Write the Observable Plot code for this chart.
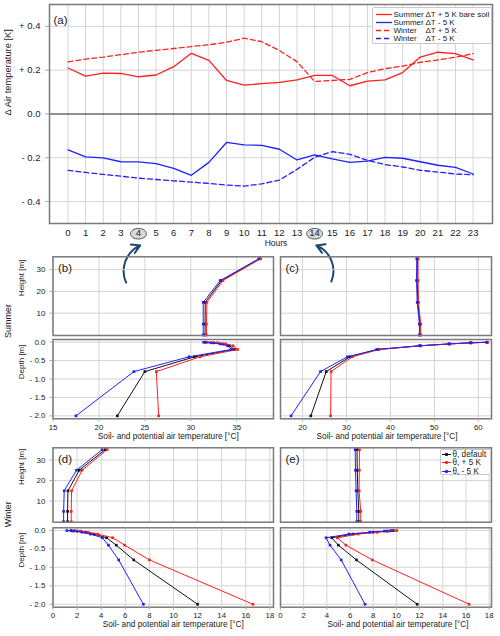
<!DOCTYPE html>
<html><head><meta charset="utf-8">
<script src="https://cdn.jsdelivr.net/npm/d3@7"></script>
<script src="https://cdn.jsdelivr.net/npm/@observablehq/plot@0.6"></script>
<style>
body{margin:0;background:#fff;font-family:"Liberation Sans",Arial,Helvetica,sans-serif;color:#222;}
#root{position:relative;width:500px;height:636px;overflow:hidden;background:#fff;}
.leg{position:absolute;background:#fff;border:1px solid #c8c8c8;border-radius:2px;box-sizing:border-box;}
.row{position:absolute;left:0;white-space:nowrap;line-height:9px;height:9px;}
.row svg{position:absolute;top:0;}
.row span{position:absolute;top:0;}
</style>
</head><body><div id="root"></div>
<script>
// ---------- data: panel (a) ----------
const hours = [0,1,2,3,4,5,6,7,8,9,10,11,12,13,14,15,16,17,18,19,20,21,22,23];
const summerPlus5 = [0.21,0.173,0.187,0.185,0.170,0.178,0.216,0.277,0.245,0.153,0.132,0.139,0.144,0.156,0.176,0.176,0.129,0.150,0.156,0.189,0.26,0.282,0.276,0.247];
const summerMinus5 = [-0.164,-0.196,-0.2,-0.218,-0.219,-0.227,-0.248,-0.28,-0.221,-0.13,-0.141,-0.143,-0.161,-0.21,-0.187,-0.205,-0.221,-0.215,-0.198,-0.202,-0.218,-0.234,-0.244,-0.274];
const winterPlus5 = [0.238,0.251,0.26,0.271,0.282,0.291,0.299,0.308,0.316,0.328,0.346,0.33,0.29,0.239,0.149,0.153,0.158,0.189,0.207,0.219,0.236,0.247,0.259,0.276];
const winterMinus5 = [-0.257,-0.267,-0.276,-0.284,-0.293,-0.299,-0.305,-0.311,-0.317,-0.325,-0.329,-0.319,-0.302,-0.253,-0.198,-0.172,-0.184,-0.212,-0.231,-0.242,-0.257,-0.265,-0.274,-0.277];
const seasonNamesA = ["Summer","Summer","Winter","Winter"];
const changeNamesA = ["ΔT + 5 K bare soil","ΔT - 5 K","ΔT + 5 K","ΔT - 5 K"];
const yTicksA = [-0.4,-0.2,0,0.2,0.4];
const highlightHours = [4,14];

// ---------- data: profiles ----------
const heights = [0,5,15,25,35];
const depths = [-0.005,-0.02,-0.05,-0.1,-0.2,-0.4,-0.8,-2.0];
const profileNames = ["θ, default","θ, + 5 K","θ, - 5 K"];
// (b) summer, hour 4
const bAirDefault = [31.55,31.55,31.57,33.35,37.5];
const bAirPlus = [31.7,31.7,31.75,33.5,37.6];
const bAirMinus = [31.35,31.35,31.35,33.2,37.4];
const bSoilDefault = [31.6,32.5,33.5,34.2,34.75,30.4,25.0,22.0];
const bSoilPlus = [31.8,32.9,33.8,34.6,35.1,31.0,26.25,26.5];
const bSoilMinus = [31.4,32.2,33.2,34.0,34.4,29.8,23.8,17.5];
// (c) summer, hour 14
const cAirDefault = [46.75,46.75,46.25,46.1,46.15];
const cAirPlus = [46.9,46.9,46.4,46.3,46.3];
const cAirMinus = [46.6,46.6,46.1,45.95,46.0];
const cSoilDefault = [62.0,58.3,53.4,46.8,37.2,30.8,25.4,21.9];
const cSoilPlus = [62.1,58.4,53.5,46.9,37.4,31.3,26.5,26.4];
const cSoilMinus = [61.9,58.2,53.3,46.6,36.9,30.2,24.1,17.4];
// (d) winter, hour 4
const dAirDefault = [1.21,1.21,1.24,2.18,4.33];
const dAirPlus = [1.51,1.51,1.54,2.42,4.49];
const dAirMinus = [0.88,0.88,0.93,1.95,4.08];
const dSoilDefault = [1.5,2.0,2.7,3.4,4.45,5.25,6.7,12.0];
const dSoilPlus = [1.8,2.3,2.9,3.7,4.95,5.95,8.0,16.6];
const dSoilMinus = [1.15,1.7,2.4,3.1,4.1,4.6,5.45,7.5];
// (e) winter, hour 14
const eAirDefault = [6.75,6.75,6.67,6.62,6.6];
const eAirPlus = [6.92,6.92,6.78,6.8,6.81];
const eAirMinus = [6.58,6.58,6.52,6.47,6.44];
const eSoilDefault = [9.74,9.2,7.98,6.27,4.42,4.99,6.55,11.79];
const eSoilPlus = [10.03,9.32,8.35,6.7,4.9,5.64,7.92,16.27];
const eSoilMinus = [9.54,8.97,7.69,5.9,3.93,4.27,5.24,7.29];

const heightTicks = [10,20,30];
const depthTicks = [0,-0.5,-1.0,-1.5,-2.0];
const summerTicks = [15,20,25,30,35];
const summerTicksC = [20,30,40,50,60];
const winterTicks = [0,2,4,6,8,10,12,14,16,18];
const xTitle = "Soil- and potential air temperature [°C]";

// ---------- styling ----------
const FONT = '"Liberation Sans", Arial, Helvetica, sans-serif';
const RED = "#ff2020", BLUE = "#2020ff", BLACK = "#111111";
const GRID = "#d4d4d4", FRAME = "#7a7a7a", NAVY = "#1d4673";
const root = document.getElementById("root");
function place(el, left, top){ el.style.position="absolute"; el.style.left=left+"px"; el.style.top=top+"px"; root.appendChild(el); }
const baseStyle = {background:"transparent", overflow:"visible", fontFamily:FONT, color:"#222"};

// ellipse symbol for highlighted hour ticks
const ellipse = {draw(ctx, size){
  const r = Math.sqrt(size/Math.PI), rx = r*1.5, ry = r, k = 0.5523;
  ctx.moveTo(rx,0);
  ctx.bezierCurveTo(rx,k*ry,k*rx,ry,0,ry);
  ctx.bezierCurveTo(-k*rx,ry,-rx,k*ry,-rx,0);
  ctx.bezierCurveTo(-rx,-k*ry,-k*rx,-ry,0,-ry);
  ctx.bezierCurveTo(k*rx,-ry,rx,-k*ry,rx,0);
  ctx.closePath();
}};

// ---------- panel (a) ----------
const fmtA = v => v === 0 ? "0.0" : (v > 0 ? "+ " : "- ") + Math.abs(v).toFixed(1);
const linesA = [
  {v: summerPlus5, c: RED, dash: null},
  {v: summerMinus5, c: BLUE, dash: null},
  {v: winterPlus5, c: RED, dash: "5,3"},
  {v: winterMinus5, c: BLUE, dash: "5,3"}
];
const arrowsB = [{x1:3.3, y1:-0.77, x2:4.1, y2:-0.60}];
const arrowsC = [{x1:14.95, y1:-0.765, x2:14.1, y2:-0.60}];
const plotA = Plot.plot({
  width:500, height:300, marginLeft:49, marginRight:8, marginTop:4, marginBottom:77,
  style: baseStyle,
  x:{domain:[-1.05,24.1]}, y:{domain:[-0.5,0.5]},
  marks:[
    Plot.gridX(hours, {stroke:GRID, strokeOpacity:1}),
    Plot.gridY(yTicksA.filter(d=>d!==0), {stroke:GRID, strokeOpacity:1}),
    Plot.ruleY([0], {stroke:"#222", strokeWidth:1.2}),
    ...linesA.map(s => Plot.line(hours, {x:d=>d, y:(d,i)=>s.v[i], stroke:s.c, strokeWidth:1.3, strokeDasharray:s.dash})),
    Plot.frame({stroke:FRAME, strokeWidth:1.5}),
    Plot.dot(highlightHours, {x:d=>d, frameAnchor:"bottom", dy:10.2, r:5.3, symbol:ellipse, fill:"#d8d8d8", stroke:"#555", strokeWidth:1}),
    Plot.axisX(hours, {tickSize:0, tickPadding:6, fontSize:9.5, label:null}),
    Plot.axisY(yTicksA, {tickFormat:fmtA, tickSize:4, tickPadding:5, fontSize:9.5, label:null, stroke:"#aaa"}),
    Plot.text(["Hours"], {text:d=>d, frameAnchor:"bottom", dy:22.3, dx:5, fontSize:8.5}),
    Plot.text(["Δ Air temperature [K]"], {text:d=>d, frameAnchor:"left", dx:-41.5, dy:1.5, rotate:-90, fontSize:9.3}),
    Plot.text(["(a)"], {text:d=>d, frameAnchor:"top-left", dx:4, dy:11, fontSize:11.5, textAnchor:"start"}),
    Plot.arrow(arrowsB, {x1:"x1", y1:"y1", x2:"x2", y2:"y2", bend:45, stroke:NAVY, strokeWidth:2, headLength:7}),
    Plot.arrow(arrowsC, {x1:"x1", y1:"y1", x2:"x2", y2:"y2", bend:-45, stroke:NAVY, strokeWidth:2, headLength:7})
  ]
});
place(plotA, 0, 0);

// legend (a)
(function(){
  const leg = document.createElement("div");
  leg.className = "leg";
  leg.style.cssText += "left:372px;top:7px;width:120px;height:37px;font-size:8px;";
  root.appendChild(leg);
  seasonNamesA.forEach((season, i) => {
    const row = document.createElement("div");
    row.className = "row";
    row.style.top = (1.8 + i*8.15) + "px";
    row.style.width = "118px";
    const s = linesA[i];
    row.innerHTML = `<svg width="18" height="9" style="left:2px"><line x1="1" x2="17" y1="4.5" y2="4.5" stroke="${s.c}" stroke-width="1.3" ${s.dash?`stroke-dasharray="${s.dash}"`:""}/></svg>`;
    const a = document.createElement("span"); a.textContent = season; a.style.left = "20.5px";
    const b = document.createElement("span"); b.textContent = changeNamesA[i]; b.style.left = "52.5px";
    row.appendChild(a); row.appendChild(b);
    leg.appendChild(row);
  });
})();

// ---------- profile panels ----------
const fmtDepth = v => v === 0 ? "0.0" : "- " + Math.abs(v).toFixed(1);
function profilePlot(o){
  const marks = [
    Plot.gridX(o.xTicks, {stroke:GRID, strokeOpacity:1}),
    Plot.gridY(o.yTicks, {stroke:GRID, strokeOpacity:1})
  ];
  o.series.forEach(s => {
    marks.push(Plot.line(s.v, {x:d=>d, y:(d,i)=>o.levels[i], stroke:s.c, strokeWidth:1}));
    marks.push(Plot.dot(s.v, {x:d=>d, y:(d,i)=>o.levels[i], fill:s.c, symbol:"square", r:1.5}));
  });
  marks.push(Plot.frame({stroke:FRAME, strokeWidth:1.5}));
  if (o.yLabels) marks.push(Plot.axisY(o.yTicks, {tickFormat:o.yFmt, tickSize:3, tickPadding:4.5, fontSize:8, label:null, stroke:"#aaa"}));
  if (o.xLabels) marks.push(Plot.axisX(o.xTicks, {tickSize:3, tickPadding:o.xPad, fontSize:7.8, label:null, stroke:"#aaa"}));
  if (o.yTitle) marks.push(Plot.text([o.yTitle], {text:d=>d, frameAnchor:"left", dx:-31.5, rotate:-90, fontSize:8}));
  if (o.xTitle) marks.push(Plot.text([o.xTitle], {text:d=>d, frameAnchor:"bottom", dy:o.xTitleDy, dx:o.xTitleDx, fontSize:8.3}));
  if (o.tag) marks.push(Plot.text([o.tag], {text:d=>d, frameAnchor:"top-left", dx:5, dy:7.5, fontSize:11.5, textAnchor:"start"}));
  if (o.side) marks.push(Plot.text([o.side], {text:d=>d, frameAnchor:"bottom-left", dx:-42.5, dy:o.sideDy, rotate:-90, fontSize:9}));
  const svg = Plot.plot({
    width:o.width, height:o.height, marginLeft:o.mL, marginRight:o.mR, marginTop:o.mT, marginBottom:o.mB,
    style: baseStyle,
    x:{domain:o.xDomain, axis: o.xLabels ? undefined : null},
    y:{domain:o.yDomain, axis: o.yLabels ? undefined : null},
    marks
  });
  place(svg, o.left, o.top);
}
const HDOM = [-0.25, 35.9], DDOM = [-2.08, 0.07];
const LEFT = {left:0, width:280, mL:52.5, mR:7};
const RIGHT = {left:275, width:225, mL:5, mR:9};
function trio(d, m, p){ return [{v:d, c:BLACK},{v:p, c:RED},{v:m, c:BLUE}]; }

// (b)
profilePlot({...LEFT, top:250, height:90, mT:6.3, mB:5, xDomain:[15,39], xTicks:summerTicks, yDomain:HDOM, yTicks:heightTicks,
  levels:heights, series:trio(bAirDefault,bAirMinus,bAirPlus), yLabels:true, yFmt:d=>String(d), yTitle:"Height [m]", tag:"(b)", side:"Summer", sideDy:2.5});
profilePlot({...LEFT, top:336, height:112.3, mT:3, mB:30, xDomain:[15,39], xTicks:summerTicks, yDomain:DDOM, yTicks:depthTicks,
  levels:depths, series:trio(bSoilDefault,bSoilMinus,bSoilPlus), yLabels:true, yFmt:fmtDepth, yTitle:"Depth [m]", xLabels:true, xPad:2.5, xTitle, xTitleDx:5, xTitleDy:20});
// (c)
profilePlot({...RIGHT, top:250, height:90, mT:6.3, mB:5, xDomain:[15,63], xTicks:summerTicksC, yDomain:HDOM, yTicks:heightTicks,
  levels:heights, series:trio(cAirDefault,cAirMinus,cAirPlus), tag:"(c)"});
profilePlot({...RIGHT, top:336, height:112.3, mT:3, mB:30, xDomain:[15,63], xTicks:summerTicksC, yDomain:DDOM, yTicks:depthTicks,
  levels:depths, series:trio(cSoilDefault,cSoilMinus,cSoilPlus), xLabels:true, xPad:2.5, xTitle, xTitleDx:1, xTitleDy:20});
// (d)
profilePlot({...LEFT, top:440, height:85.7, mT:7.3, mB:4, xDomain:[0,18.3], xTicks:winterTicks, yDomain:HDOM, yTicks:heightTicks,
  levels:heights, series:trio(dAirDefault,dAirMinus,dAirPlus), yLabels:true, yFmt:d=>String(d), yTitle:"Height [m]", tag:"(d)", side:"Winter", sideDy:5});
profilePlot({...LEFT, top:524, height:112, mT:3.3, mB:29.3, xDomain:[0,18.3], xTicks:winterTicks, yDomain:DDOM, yTicks:depthTicks,
  levels:depths, series:trio(dSoilDefault,dSoilMinus,dSoilPlus), yLabels:true, yFmt:fmtDepth, yTitle:"Depth [m]", xLabels:true, xPad:2, xTitle, xTitleDx:10, xTitleDy:19.8});
// (e)
profilePlot({...RIGHT, top:440, height:85.7, mT:7.3, mB:4, xDomain:[0,18.2], xTicks:winterTicks, yDomain:HDOM, yTicks:heightTicks,
  levels:heights, series:trio(eAirDefault,eAirMinus,eAirPlus), tag:"(e)"});
profilePlot({...RIGHT, top:524, height:112, mT:3.3, mB:29.3, xDomain:[0,18.2], xTicks:winterTicks, yDomain:DDOM, yTicks:depthTicks,
  levels:depths, series:trio(eSoilDefault,eSoilMinus,eSoilPlus), xLabels:true, xPad:2, xTitle, xTitleDx:12, xTitleDy:19.8});

// legend (e)
(function(){
  const leg = document.createElement("div");
  leg.className = "leg";
  leg.style.cssText += "left:440px;top:449px;width:51px;height:25.5px;font-size:8.2px;";
  root.appendChild(leg);
  const cols = [BLACK, RED, BLUE];
  profileNames.forEach((name, i) => {
    const row = document.createElement("div");
    row.className = "row";
    row.style.top = (-0.2 + i*8.6) + "px";
    row.style.width = "50px";
    row.innerHTML = `<svg width="11" height="9" style="left:0px"><line x1="1" x2="10" y1="4.5" y2="4.5" stroke="${cols[i]}" stroke-width="1"/><rect x="4.1" y="3.1" width="2.8" height="2.8" fill="${cols[i]}"/></svg>`;
    const a = document.createElement("span"); a.textContent = name; a.style.left = "11.5px";
    row.appendChild(a);
    leg.appendChild(row);
  });
})();
</script>
</body></html>
